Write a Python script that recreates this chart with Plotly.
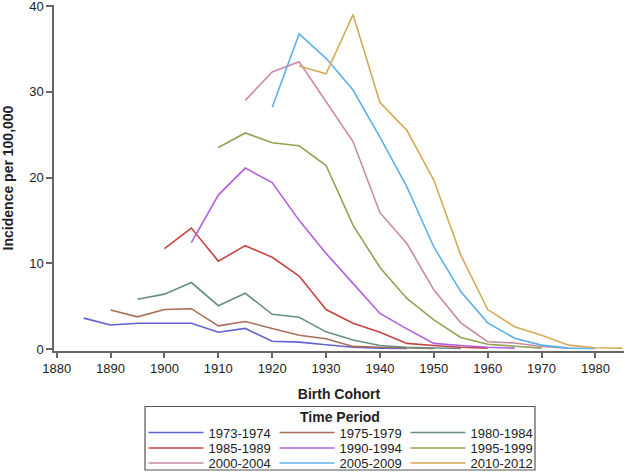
import plotly.graph_objects as go

periods = ["1973-1974", "1975-1979", "1980-1984",
           "1985-1989", "1990-1994", "1995-1999",
           "2000-2004", "2005-2009", "2010-2012"]

start_cohorts = [1885, 1890, 1895, 1900, 1905, 1910, 1915, 1920, 1925]

v_1973_1974 = [3.6, 2.8, 3.0, 3.0, 3.0, 1.95, 2.4, 0.9, 0.8, 0.5, 0.2, 0.1, 0.05]
v_1975_1979 = [4.55, 3.75, 4.6, 4.7, 2.7, 3.2, 2.4, 1.6, 1.2, 0.3, 0.2, 0.1, 0.05]
v_1980_1984 = [5.8, 6.4, 7.75, 5.05, 6.5, 4.05, 3.7, 2.0, 1.05, 0.4, 0.2, 0.1, 0.05]
v_1985_1989 = [11.7, 14.1, 10.25, 12.05, 10.7, 8.5, 4.6, 3.0, 1.95, 0.65, 0.4, 0.2, 0.1]
v_1990_1994 = [12.4, 17.95, 21.1, 19.4, 15.0, 11.15, 7.65, 4.15, 2.35, 0.65, 0.4, 0.2, 0.1]
v_1995_1999 = [23.5, 25.2, 24.05, 23.7, 21.4, 14.45, 9.5, 5.9, 3.4, 1.35, 0.55, 0.3, 0.1]
v_2000_2004 = [29.0, 32.3, 33.5, 28.8, 24.2, 15.9, 12.3, 6.9, 3.05, 0.85, 0.7, 0.3, 0.1]
v_2005_2009 = [28.2, 36.75, 33.9, 30.2, 24.7, 18.9, 11.9, 6.7, 3.05, 1.25, 0.45, 0.1, 0.05]
v_2010_2012 = [33.0, 32.1, 39.0, 28.75, 25.5, 19.7, 10.95, 4.6, 2.6, 1.6, 0.45, 0.15, 0.1]

series = [v_1973_1974, v_1975_1979, v_1980_1984,
          v_1985_1989, v_1990_1994, v_1995_1999,
          v_2000_2004, v_2005_2009, v_2010_2012]

colors = ["#6262d4", "#a86e58", "#6a9080",
          "#c84444", "#b060e0", "#90a452",
          "#c98aa6", "#5cb0ea", "#d6aa56"]

x_ticks = [1880, 1890, 1900, 1910, 1920, 1930, 1940, 1950, 1960, 1970, 1980]
y_ticks = [0, 10, 20, 30, 40]

legend_title = "Time Period"
x_title = "Birth Cohort"
y_title = "Incidence per 100,000"

FONT = "Arial, Liberation Sans, sans-serif"
W, H = 628, 473
ML, MR, MT, MB = 54, 4, 5, 122
PW, PH = W - ML - MR, H - MT - MB

def px_to_paper_x(px):
    return (px - ML) / PW

def px_to_paper_y(py):
    return (H - MB - py) / PH

legend_ids = ["legend", "legend2", "legend3"]
row_centers_px = [432.5, 448.0, 463.0]

fig = go.Figure()
for i, (name, start, vals, col) in enumerate(zip(periods, start_cohorts, series, colors)):
    xs = [start + 5 * k for k in range(len(vals))]
    fig.add_trace(go.Scatter(x=xs, y=vals, mode="lines", name=name,
                             legend=legend_ids[i // 3],
                             line=dict(color=col, width=1.6)))

legend_common = dict(
    orientation="h",
    xref="paper", x=px_to_paper_x(340), xanchor="center",
    yref="container", yanchor="middle",
    bgcolor="rgba(0,0,0,0)", borderwidth=0,
    font=dict(size=13, family=FONT, color="#222222"),
    entrywidth=61, entrywidthmode="pixels",
    itemwidth=55,
    tracegroupgap=0,
)

layout_legends = {}
for lid, yc in zip(legend_ids, row_centers_px):
    d = dict(legend_common)
    d["y"] = 1 - yc / H
    layout_legends[lid] = d

fig.update_layout(
    width=W, height=H,
    margin=dict(l=ML, r=MR, t=MT, b=MB, autoexpand=False),
    paper_bgcolor="white", plot_bgcolor="white",
    font=dict(family=FONT, size=13, color="#222222"),
    showlegend=True,
    **layout_legends,
)

# legend frame and title
fig.add_shape(type="rect", xref="paper", yref="paper",
              x0=px_to_paper_x(145), x1=px_to_paper_x(535),
              y0=px_to_paper_y(406.5), y1=px_to_paper_y(470),
              line=dict(color="#555555", width=1.2), fillcolor="rgba(0,0,0,0)")
fig.add_annotation(text="<b>" + legend_title + "</b>", xref="paper", yref="paper",
                   x=px_to_paper_x(340), y=px_to_paper_y(417), showarrow=False,
                   xanchor="center", yanchor="middle",
                   font=dict(size=14, family=FONT, color="#222222"))

fig.update_xaxes(
    range=[1879.5, 1985.3],
    tickvals=x_ticks, ticktext=[str(t) for t in x_ticks],
    showgrid=False, zeroline=False,
    showline=True, linecolor="#666666", linewidth=1.5,
    ticks="outside", ticklen=5, tickcolor="#666666", tickwidth=1.5,
    tickfont=dict(size=13, family=FONT, color="#222222"),
    title=dict(text="<b>" + x_title + "</b>", standoff=14,
               font=dict(size=14, family=FONT, color="#222222")),
)
fig.update_yaxes(
    range=[-0.234, 40.12],
    tickvals=y_ticks, ticktext=[str(t) for t in y_ticks],
    ticklabeloverflow="allow",
    showgrid=False, zeroline=False,
    showline=True, linecolor="#666666", linewidth=1.5,
    ticks="outside", ticklen=6, tickcolor="#666666", tickwidth=1.5,
    tickfont=dict(size=13, family=FONT, color="#222222"),
    title=dict(text="<b>" + y_title + "</b>", standoff=13,
               font=dict(size=14, family=FONT, color="#222222")),
)

fig.write_html("out.html",
               config={"displayModeBar": False},
               post_script="document.body.style.margin='0';document.body.style.overflow='hidden';")
